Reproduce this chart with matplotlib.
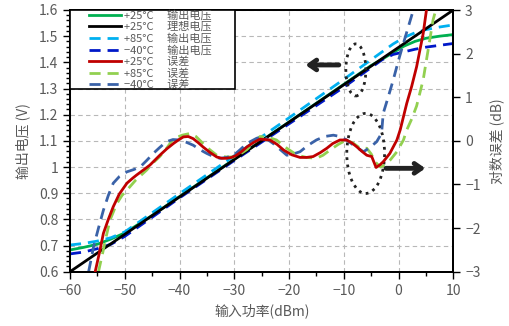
import numpy as np
import matplotlib
matplotlib.use("Agg")
import matplotlib.pyplot as plt
from matplotlib.patches import Ellipse, Rectangle
from matplotlib.ticker import MultipleLocator, FuncFormatter

plt.rcParams['font.family'] = ['Noto Sans CJK SC', 'DejaVu Sans']

# ---- output voltage (left axis) ----
x_out = [-60, -57.5, -55, -52.5, -50, -45, -40, -30, -20, -10, -5, -3, -1, 1, 3, 5, 7.5, 10]
v25 = [0.683, 0.693, 0.705, 0.725, 0.748, 0.815, 0.887, 1.03, 1.172, 1.316, 1.388, 1.412,
       1.437, 1.462, 1.480, 1.492, 1.500, 1.506]
v85 = [0.702, 0.708, 0.717, 0.730, 0.752, 0.825, 0.898, 1.043, 1.188, 1.335, 1.41, 1.44,
       1.47, 1.495, 1.513, 1.525, 1.535, 1.543]
vm40 = [0.668, 0.675, 0.688, 0.705, 0.735, 0.808, 0.882, 1.025, 1.165, 1.305, 1.38, 1.41,
        1.43, 1.44, 1.45, 1.458, 1.465, 1.472]
x_ideal = [-60, 10]
v_ideal = [0.6, 1.6]

# ---- log error (right axis) ----
x_e25 = [-55.4, -54.6, -53.9, -53, -52.1, -51, -49.6, -48.5, -47.8, -46.5, -45.4, -43.6, -42.3,
         -41.1, -40.2, -39.3, -38.4, -37.5, -36.6, -35.7, -34.5, -33.2, -32.3, -31.4, -30.5,
         -29.6, -28.6, -27.7, -26.5, -25.3, -23.5, -22.2, -21, -19.5, -18, -16.8, -15.6, -14.3,
         -13.1, -12, -10.7, -9.5, -8.5, -7.6, -6.7, -5.8, -4.9, -4.1, -3.4, -2.8, -1.6, -0.3,
         0.3, 1.5, 2.4, 3.3, 4.5, 5.1]
e25 = [-3, -2.55, -2.12, -1.8, -1.51, -1.22, -0.97, -0.85, -0.78, -0.66, -0.555, -0.33, -0.18,
       -0.06, 0.02, 0.09, 0.1, 0.05, -0.04, -0.14, -0.26, -0.37, -0.40, -0.40, -0.38,
       -0.33, -0.24, -0.14, -0.04, 0.04, 0.02, -0.08, -0.21, -0.32, -0.38, -0.38, -0.36, -0.27,
       -0.17, -0.06, 0.02, 0.02, -0.05, -0.14, -0.24, -0.33, -0.36, -0.61, -0.55, -0.48, -0.29, 0.02,
       0.25, 0.86, 1.25, 1.70, 2.46, 3.0]

x_e85 = [-54.8, -54, -53.4, -52.7, -51.5, -50.5, -49.6, -48, -46, -44.8, -43.6, -42.3, -41.1,
         -39.5, -38.1, -37, -35.7, -34.5, -33.2, -31.5, -30.1, -28.9, -27.7, -26.5, -25.3, -23.8,
         -22.3, -20.4, -18.5, -16.8, -15, -13.8, -12.5, -11, -9.5, -8.2, -7, -5.8, -5, -4.3, -3.3,
         -2.4, -1.6, -0.3, 0.9, 1.5, 2.4, 3.3, 4.5, 5.7, 6.3, 6.8]
e85 = [-3, -2.55, -2.2, -1.82, -1.45, -1.25, -1.13, -0.9, -0.67, -0.5, -0.36, -0.16, 0.05,
       0.13, 0.17, 0.1, -0.06, -0.2, -0.33, -0.37, -0.37, -0.3, -0.2, -0.05, 0.1, 0.08,
       0.02, -0.17, -0.33, -0.38, -0.4, -0.33, -0.21, -0.08, 0.02, -0.06, -0.17, -0.17, -0.3, -0.48, -0.6,
       -0.55, -0.45, -0.25, 0.02, 0.25, 0.5, 0.8, 1.4, 2.31, 2.77, 3.0]

x_em40 = [-56.6, -56.2, -55.7, -54.8, -53.9, -53, -52.1, -51, -49.6, -48.4, -47.2, -46, -44.8,
          -43.6, -42.4, -41.2, -40, -38.8, -37.5, -36.3, -35, -33.8, -32.6, -31.4, -30.1, -28.9,
          -27.7, -25.9, -24.7, -22.9, -21.6, -20.4, -19.2, -18, -16.5, -15, -13.5, -11.9, -10.7,
          -9.5, -8, -6.4, -5.2, -4, -3.1, -2.8, -1.9, -0.96, 0, 0.9, 1.8, 2.7]
em40 = [-3, -2.75, -2.43, -2.0, -1.59, -1.25, -0.97, -0.82, -0.71, -0.66, -0.6, -0.45, -0.29,
        -0.15, -0.02, 0.03, 0.02, -0.03, -0.1, -0.2, -0.29, -0.36, -0.4, -0.38, -0.33, -0.2,
        -0.06, 0.06, 0.1, -0.06, -0.2, -0.33, -0.3, -0.25, -0.1, 0.02, 0.1, 0.13, 0.1,
        0.02, -0.12, -0.25, -0.15, -0.02, 0.17, 0.63, 1.0, 1.40, 1.85, 2.24, 2.62, 3.0]

gray = '#595959'
dash = (0, (4, 2.5))
sp = '\u3000 '

fig = plt.figure(figsize=(5.1, 3.26), dpi=100)
ax = fig.add_axes([70 / 510, (326 - 271.7) / 326, (453.3 - 70) / 510, (271.7 - 10) / 326])
ax2 = ax.twinx()

l1, = ax.plot(x_out, v25, color='#00b050', lw=2, label='+25°C' + sp + '输出电压')
l3, = ax.plot(x_out, v85, color='#00b0f0', lw=2, ls=dash, label='+85°C' + sp + '输出电压')
l4, = ax.plot(x_out, vm40, color='#0018c8', lw=2, ls=dash, label='−40°C' + sp + '输出电压')
l2, = ax.plot(x_ideal, v_ideal, color='black', lw=2, label='+25°C' + sp + '理想电压')

l5, = ax2.plot(x_e25, e25, color='#c00000', lw=2, label='+25°C' + sp + '误差', zorder=3)
l6, = ax2.plot(x_e85, e85, color='#92d050', lw=2, ls=dash, label='+85°C' + sp + '误差', zorder=2)
l7, = ax2.plot(x_em40, em40, color='#3a62a8', lw=2, ls=dash, label='−40°C' + sp + '误差', zorder=2)

ax.set_xlim(-60, 10)
ax.set_ylim(0.6, 1.6)
ax2.set_ylim(-3, 3)
ax.xaxis.set_major_locator(MultipleLocator(10))
ax.xaxis.set_minor_locator(MultipleLocator(5))
ax.yaxis.set_major_locator(MultipleLocator(0.1))
ax.yaxis.set_minor_locator(MultipleLocator(0.02))
ax2.yaxis.set_major_locator(MultipleLocator(1))
ax.yaxis.set_major_formatter(FuncFormatter(lambda v, p: '%g' % round(v, 2)))
ax.xaxis.set_major_formatter(FuncFormatter(lambda v, p: ('%g' % v).replace('-', '−')))
ax2.yaxis.set_major_formatter(FuncFormatter(lambda v, p: ('%g' % v).replace('-', '−')))

ax.grid(True, which='major', color='#b8b8b8', ls=(0, (4, 3)), lw=0.8)
for a in (ax, ax2):
    for s in a.spines.values():
        s.set_linewidth(1.4)
        s.set_color('black')
    a.tick_params(which='major', length=5, width=1, labelsize=10, labelcolor=gray, direction='out')
    a.tick_params(which='minor', length=3, width=1, direction='out')

ax.set_xlabel('输入功率(dBm)', fontsize=10, color=gray, labelpad=4)
ax.set_ylabel('输出电压 (V)', fontsize=10, color=gray, labelpad=6)
ax2.set_ylabel('对数误差 (dB)', fontsize=10, color=gray, labelpad=6)

# annotations
ax.add_patch(Ellipse((-7.8, 1.371), 3.65, 0.199, fill=False, ls=':', lw=2, color='#222222', zorder=5))
ax.add_patch(Ellipse((-6.0, 1.052), 6.9, 0.306, fill=False, ls=':', lw=2, color='#222222', zorder=5))
ax2.annotate('', xy=(-17.5, 1.74), xytext=(-10.4, 1.74),
             arrowprops=dict(arrowstyle='->,head_length=0.5,head_width=0.35', lw=3.5, color='#222222'))
ax2.annotate('', xy=(5.4, -0.63), xytext=(-2.8, -0.63),
             arrowprops=dict(arrowstyle='->,head_length=0.5,head_width=0.35', lw=3.5, color='#222222'))

# legend box
ax2.add_patch(Rectangle((0, 0.7), 165 / 383.3, 0.3, transform=ax2.transAxes, facecolor='white',
                        edgecolor='black', lw=1.2, zorder=6, clip_on=False))
leg = ax2.legend(handles=[l1, l2, l3, l4, l5, l6, l7], loc='upper left',
                 bbox_to_anchor=(18 / 383.3, 1 + 1 / 261.7),
                 borderaxespad=0, fontsize=8, labelspacing=0.1, handlelength=2.9,
                 handletextpad=0.2, borderpad=0.1, frameon=False, labelcolor=gray)
leg.set_zorder(7)

fig.savefig('out.png', dpi=100)
